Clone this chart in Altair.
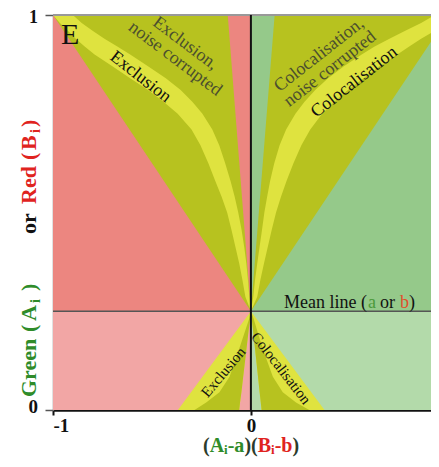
import altair as alt
import pandas as pd

SERIF = "Liberation Serif"

# ---------------- data ----------------
MEAN = 0.25

quad_x = [-1.0, 0.0, -1.0, 0.0]
quad_x2 = [0.0, 1.0, 0.0, 1.0]
quad_y = [0.25, 0.25, 0.0, 0.0]
quad_y2 = [1.0, 1.0, 0.25, 0.25]
quad_fill = ["#EC8680", "#95C98A", "#F2A6A5", "#B3DAAA"]

OLIVE = "#B7C21F"
YELLOW = "#DFE33F"

# olive wedges above the mean line
olive_y = [0.25, 1.0]
olive_l_x = [0.0, -1.0]
olive_l_x2 = [0.0, -0.117]
olive_r_x = [0.0, 0.12]
olive_r_x2 = [0.0, 1.0]

# yellow bands above the mean line (edges read at these heights)
band_y = [0.25, 0.287, 0.33, 0.371, 0.41, 0.456, 0.50, 0.54, 0.58, 0.625, 0.67, 0.71,
          0.75, 0.78, 0.81, 0.84, 0.87, 0.90, 0.92, 0.94, 0.96, 0.98, 1.0]
band_l_outer = [0.0, -0.028, -0.043, -0.059, -0.077, -0.098, -0.12, -0.148, -0.18, -0.215, -0.255, -0.30,
                -0.37, -0.44, -0.52, -0.61, -0.70, -0.79, -0.84, -0.885, -0.925, -0.965, -1.0]
band_l_inner = [0.0, -0.008, -0.015, -0.023, -0.033, -0.047, -0.064, -0.082, -0.103, -0.13, -0.16, -0.195,
                -0.245, -0.295, -0.355, -0.43, -0.52, -0.61, -0.675, -0.74, -0.80, -0.855, -0.90]
band_r_inner = [0.0, 0.012, 0.021, 0.032, 0.043, 0.056, 0.068, 0.082, 0.097, 0.118, 0.145, 0.178,
                0.225, 0.27, 0.325, 0.39, 0.47, 0.56, 0.625, 0.70, 0.78, 0.86, 0.93]
band_r_outer = [0.0, 0.032, 0.048, 0.066, 0.084, 0.105, 0.127, 0.152, 0.18, 0.215, 0.255, 0.30,
                0.36, 0.42, 0.49, 0.57, 0.65, 0.74, 0.80, 0.86, 0.93, 1.0, 1.06]

# yellow wedges below the mean line
wedge_y = [0.0, 0.25]
wedge_l_x = [-0.369, 0.0]
wedge_l_x2 = [-0.059, 0.0]
wedge_r_x = [0.054, 0.0]
wedge_r_x2 = [0.372, 0.0]

# olive crescents inside the lower wedges
cres_y = [0.0, 0.019, 0.045, 0.084, 0.131, 0.182, 0.232, 0.25]
cres_l_x = [-0.285, -0.226, -0.159, -0.108, -0.075, -0.041, -0.008, 0.0]
cres_l_x2 = [-0.059, -0.055, -0.048, -0.039, -0.028, -0.016, -0.004, 0.0]
cres_r_x = [0.295, 0.228, 0.161, 0.111, 0.077, 0.043, 0.013, 0.0]
cres_r_x2 = [0.054, 0.050, 0.044, 0.036, 0.026, 0.015, 0.004, 0.0]

y_tick_labels = ["0", "1"]


def hband(name, ys, xs, x2s, fill):
    return [dict(shape=name, y=a, x=b, x2=c, fill=fill) for a, b, c in zip(ys, xs, x2s)]


olive_top = pd.DataFrame(hband("ol", olive_y, olive_l_x, olive_l_x2, OLIVE)
                         + hband("or", olive_y, olive_r_x, olive_r_x2, OLIVE))
bands = pd.DataFrame(hband("bl", band_y, band_l_outer, band_l_inner, YELLOW)
                     + hband("br", band_y, band_r_inner, band_r_outer, YELLOW))
wedges = pd.DataFrame(hband("wl", wedge_y, wedge_l_x, wedge_l_x2, YELLOW)
                      + hband("wr", wedge_y, wedge_r_x, wedge_r_x2, YELLOW))
cres = pd.DataFrame(hband("cl", cres_y, cres_l_x, cres_l_x2, OLIVE)
                    + hband("cr", cres_y, cres_r_x, cres_r_x2, OLIVE))
quads = pd.DataFrame(dict(x=quad_x, x2=quad_x2, y=quad_y, y2=quad_y2, fill=quad_fill))

# ---------------- scales / axes ----------------
XS = alt.Scale(domain=[-1, 0.91], nice=False, zero=False)
YS = alt.Scale(domain=[0, 1], nice=False, zero=False)

XAXIS = alt.Axis(values=[-1, 0], labelExpr="datum.value == 0 ? '0' : '-1'", title=None, grid=False,
                 labelFont=SERIF, labelFontWeight="bold", labelFontSize=19, labelColor="#111",
                 domainColor="#111", domainWidth=2.5, tickColor="#111", tickWidth=2, tickSize=5,
                 labelPadding=1)
YAXIS = alt.Axis(values=[0, 1], labels=False, title=None, grid=False,
                 domainColor="#888", domainWidth=1.5, tickColor="#555", tickWidth=1.5, tickSize=8)

bg = alt.Chart(quads).mark_rect(clip=True).encode(
    x=alt.X("x:Q", scale=XS, axis=XAXIS), x2="x2:Q",
    y=alt.Y("y:Q", scale=YS, axis=YAXIS), y2="y2:Q",
    fill=alt.Fill("fill:N", scale=None),
)


def area_layer(df):
    return alt.Chart(df).mark_area(orient="horizontal", clip=True, interpolate="linear").encode(
        y=alt.Y("y:Q", scale=YS, axis=YAXIS),
        x=alt.X("x:Q", scale=XS, axis=XAXIS, stack=None),
        x2="x2:Q",
        detail="shape:N",
        fill=alt.Fill("fill:N", scale=None),
    )


one = pd.DataFrame({"k": [0]})

top_line = alt.Chart(one).mark_rule(color="#999", strokeWidth=2).encode(
    y=alt.YDatum(1.0, scale=YS, axis=YAXIS))
mean_line = alt.Chart(one).mark_rule(color="#555", strokeWidth=1.5).encode(
    y=alt.YDatum(MEAN, scale=YS, axis=YAXIS))
zero_line = alt.Chart(one).mark_rule(color="#111", strokeWidth=2).encode(
    x=alt.XDatum(0.0, scale=XS, axis=XAXIS))


def dlabel(text, x, y, angle=0, size=18, color="#111", weight="normal", align="center", baseline="middle"):
    return alt.Chart(one).mark_text(text=text, angle=angle, fontSize=size, font=SERIF, color=color,
                                    fontWeight=weight, align=align, baseline=baseline).encode(
        x=alt.XDatum(x, scale=XS, axis=XAXIS), y=alt.YDatum(y, scale=YS, axis=YAXIS))


OX, OY = 53, 15  # plot origin on the page


def plabel(text, px, py, angle=0, size=18, color="#111", weight="normal", align="left", baseline="alphabetic"):
    return alt.Chart(one).mark_text(text=text, angle=angle, fontSize=size, font=SERIF, color=color,
                                    fontWeight=weight, align=align, baseline=baseline).encode(
        x=alt.value(px - OX), y=alt.value(py - OY))


GREEN_T = "#2F8C2A"
RED_T = "#E0231E"
TB = 452  # x-title baseline on the page

labels = [
    # y tick labels
    plabel(y_tick_labels[1], 38, 17.5, size=18, weight="bold", align="right", baseline="middle"),
    plabel(y_tick_labels[0], 38, 407, size=19, weight="bold", align="right", baseline="middle"),
    dlabel("E", -0.913, 0.949, size=30),
    dlabel("Exclusion", -0.558, 0.843, angle=38, size=18),
    dlabel("Exclusion,", -0.332, 0.928, angle=37, size=18, color="#4B4F2E"),
    dlabel("noise corrupted", -0.383, 0.889, angle=37, size=18, color="#4B4F2E"),
    dlabel("Colocalisation", 0.522, 0.830, angle=322, size=18),
    dlabel("Colocalisation,", 0.345, 0.899, angle=322, size=18, color="#4B4F2E"),
    dlabel("noise corrupted", 0.400, 0.863, angle=322, size=18, color="#4B4F2E"),
    dlabel("Exclusion", -0.140, 0.096, angle=310, size=15),
    dlabel("Colocalisation", 0.153, 0.106, angle=52, size=15),
    # mean line caption
    plabel("Mean line (", 284, 308, size=18),
    plabel("a", 368, 308, size=18, color="#4C9A3A"),
    plabel("or", 380, 308, size=18),
    plabel("b", 400, 308, size=18, color="#E0502A"),
    plabel(")", 409, 308, size=18),
    # x title
    plabel("(", 203, TB, size=20, weight="bold", color="#2B3B2B"),
    plabel("A", 209.7, TB, size=20, weight="bold", color=GREEN_T),
    plabel("i", 224.1, TB + 2, size=13, weight="bold", color=GREEN_T),
    plabel("-a", 227.7, TB, size=20, weight="bold", color=GREEN_T),
    plabel(")(", 244.4, TB, size=20, weight="bold", color="#2B3B2B"),
    plabel("B", 257.8, TB, size=20, weight="bold", color=RED_T),
    plabel("i", 271.1, TB + 2, size=13, weight="bold", color=RED_T),
    plabel("-b", 274.7, TB, size=20, weight="bold", color=RED_T),
    plabel(")", 292.5, TB, size=20, weight="bold", color="#2B3B2B"),
    # y title (rotated, reads bottom to top)
    plabel("Green", 36, 397, angle=270, size=22, weight="bold", color=GREEN_T),
    plabel("(", 36, 332, angle=270, size=22, weight="bold", color=GREEN_T),
    plabel("A", 36, 321, angle=270, size=22, weight="bold", color=GREEN_T),
    plabel("i", 40, 303, angle=270, size=14, weight="bold", color=GREEN_T),
    plabel(")", 36, 291, angle=270, size=22, weight="bold", color=GREEN_T),
    plabel("or", 36, 234, angle=270, size=22, weight="bold", color="#111"),
    plabel("Red", 36, 204, angle=270, size=22, weight="bold", color=RED_T),
    plabel("(", 36, 160, angle=270, size=22, weight="bold", color=RED_T),
    plabel("B", 36, 150, angle=270, size=22, weight="bold", color=RED_T),
    plabel("i", 40, 133, angle=270, size=14, weight="bold", color=RED_T),
    plabel(")", 36, 127, angle=270, size=22, weight="bold", color=RED_T),
]

chart = alt.layer(
    bg,
    area_layer(olive_top),
    area_layer(bands),
    area_layer(wedges),
    area_layer(cres),
    top_line,
    mean_line,
    zero_line,
    *labels,
).properties(
    width=378,
    height=395,
    padding={"left": 45, "top": 7, "right": 0, "bottom": 47},
    autosize=alt.AutoSizeParams(type="none"),
    background="white",
).configure_view(stroke=None)

chart.save("out.html", embed_options={"renderer": "svg", "actions": False})
